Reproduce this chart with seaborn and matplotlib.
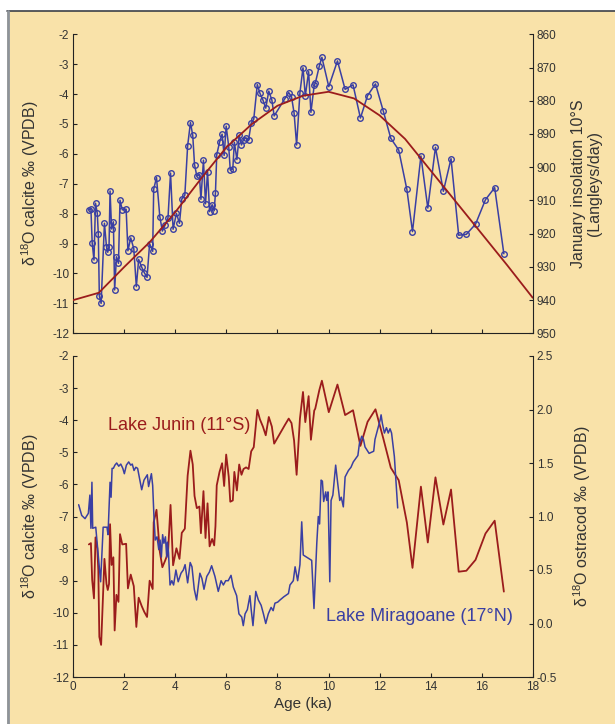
import numpy as np
import pandas as pd
import seaborn as sns
import matplotlib.pyplot as plt
from matplotlib.patches import Rectangle
from matplotlib.lines import Line2D


# Lake Junin calcite d18O (per mil VPDB) against age (ka)
junin_age = [0.61, 0.69, 0.74, 0.81, 0.87, 0.94, 0.98, 1.02, 1.09, 1.22,
             1.30, 1.35, 1.40, 1.44, 1.50, 1.57, 1.62, 1.69, 1.77, 1.83,
             1.92, 2.07, 2.14, 2.25, 2.37, 2.47, 2.56, 2.68, 2.78, 2.89,
             2.99, 3.11, 3.15, 3.26, 3.39, 3.49, 3.60, 3.71, 3.81, 3.91,
             4.04, 4.16, 4.25, 4.37, 4.48, 4.59, 4.68, 4.75, 4.84, 4.94,
             5.00, 5.10, 5.18, 5.26, 5.34, 5.44, 5.52, 5.57, 5.62, 5.73,
             5.83, 5.91, 5.99, 6.09, 6.15, 6.25, 6.31, 6.41, 6.50, 6.59,
             6.67, 6.77, 6.87, 6.97, 7.07, 7.21, 7.31, 7.43, 7.54, 7.66,
             7.78, 7.87, 8.29, 8.44, 8.55, 8.65, 8.75, 8.88, 9.00, 9.09,
             9.22, 9.31, 9.44, 9.48, 9.64, 9.74, 10.01, 10.35, 10.65, 10.96,
             11.25, 11.53, 11.84, 12.14, 12.44, 12.75, 13.07, 13.29, 13.62, 13.89,
             14.19, 14.50, 14.80, 15.10, 15.40, 15.76, 16.15, 16.51, 16.87]
junin_d18o = [-7.87, -7.83, -8.98, -9.55, -7.65, -7.99, -8.68, -10.75, -11.0, -8.32,
              -9.10, -9.29, -9.10, -7.24, -8.51, -8.27, -10.55, -9.44, -9.66, -7.55,
              -7.87, -7.85, -9.24, -8.81, -9.17, -10.44, -9.53, -9.79, -9.97, -10.13,
              -9.00, -9.26, -7.18, -6.79, -8.10, -8.58, -8.37, -8.14, -6.64, -8.52,
              -7.99, -8.32, -7.51, -7.38, -5.73, -4.95, -5.38, -6.36, -6.74, -6.69,
              -7.52, -6.21, -7.67, -6.59, -7.93, -7.70, -7.90, -7.30, -6.03, -5.61,
              -5.34, -6.05, -5.07, -5.76, -6.54, -6.50, -5.61, -6.19, -5.38, -5.70,
              -5.52, -5.47, -5.52, -4.97, -4.84, -3.68, -3.97, -4.20, -4.47, -3.90,
              -4.20, -4.73, -4.15, -3.95, -4.09, -4.63, -5.70, -3.95, -3.12, -4.06,
              -3.25, -4.61, -3.70, -3.64, -3.06, -2.77, -3.75, -2.89, -3.84, -3.69,
              -4.80, -4.05, -3.66, -4.55, -5.48, -5.87, -7.19, -8.60, -6.07, -7.81,
              -5.78, -7.25, -6.16, -8.72, -8.69, -8.35, -7.53, -7.13, -9.34]

# January insolation at 10 S (Langleys/day)
insol_age = list(range(0, 19))
insol_val = [940.0, 937.8, 930.0, 922.5, 913.5, 903.5, 894.0, 887.0, 881.5, 878.5,
             877.3, 879.3, 884.4, 891.5, 901.0, 910.5, 920.0, 929.5, 939.3]

# Lake Miragoane ostracod d18O (per mil VPDB)
mira_age = [0.21, 0.33, 0.46, 0.59, 0.65, 0.69, 0.73, 0.76, 0.88, 1.07,
            1.11, 1.17, 1.32, 1.36, 1.44, 1.48, 1.52, 1.57, 1.63, 1.70,
            1.78, 1.86, 1.94, 2.00, 2.08, 2.17, 2.25, 2.31, 2.38, 2.45,
            2.52, 2.61, 2.68, 2.77, 2.90, 2.95, 3.06, 3.11, 3.16, 3.21,
            3.28, 3.35, 3.40, 3.45, 3.50, 3.55, 3.61, 3.66, 3.69, 3.73,
            3.79, 3.86, 3.93, 4.02, 4.11, 4.22, 4.31, 4.38, 4.48, 4.58,
            4.65, 4.74, 4.83, 4.96, 5.04, 5.12, 5.23, 5.33, 5.42, 5.55,
            5.68, 5.79, 5.88, 5.97, 6.07, 6.18, 6.27, 6.40, 6.49, 6.60,
            6.66, 6.73, 6.82, 6.92, 6.97, 7.04, 7.15, 7.25, 7.36, 7.45,
            7.54, 7.64, 7.75, 7.83, 7.90, 8.01, 8.10, 8.25, 8.43, 8.49,
            8.62, 8.69, 8.79, 8.88, 8.95, 9.01, 9.34, 9.43, 9.54, 9.60,
            9.65, 9.71, 9.76, 9.81, 9.89, 9.93, 9.98, 10.05, 10.10, 10.17,
            10.28, 10.36, 10.44, 10.50, 10.58, 10.65, 10.78, 10.88, 10.97, 11.06,
            11.15, 11.21, 11.30, 11.37, 11.43, 11.59, 11.77, 11.82, 11.92, 12.02,
            12.06, 12.11, 12.19, 12.27, 12.34, 12.41, 12.47, 12.58, 12.71]
mira_d18o = [1.11, 1.01, 0.98, 1.03, 1.20, 0.89, 1.32, 0.89, 0.90, 0.39,
             0.59, 0.90, 0.90, 0.83, 1.32, 1.18, 1.45, 1.45, 1.48, 1.50,
             1.47, 1.49, 1.45, 1.40, 1.48, 1.51, 1.48, 1.49, 1.43, 1.46,
             1.45, 1.34, 1.25, 1.34, 1.39, 1.28, 1.40, 1.29, 1.00, 0.78,
             0.81, 0.69, 0.78, 0.62, 0.83, 0.75, 0.81, 0.62, 0.76, 0.66,
             0.36, 0.40, 0.36, 0.50, 0.39, 0.47, 0.50, 0.55, 0.38, 0.57,
             0.53, 0.32, 0.22, 0.47, 0.42, 0.32, 0.44, 0.48, 0.54, 0.44,
             0.30, 0.40, 0.36, 0.40, 0.40, 0.45, 0.34, 0.26, 0.09, 0.06,
             -0.02, 0.09, 0.13, 0.26, 0.13, -0.02, 0.30, 0.22, 0.17, 0.09,
             0.00, 0.09, 0.15, 0.12, 0.19, 0.20, 0.22, 0.25, 0.28, 0.36,
             0.40, 0.53, 0.40, 0.55, 0.95, 0.64, 0.59, 0.14, 0.75, 1.00,
             0.93, 1.34, 1.33, 1.14, 1.23, 1.15, 1.23, 0.39, 1.15, 1.20,
             1.48, 1.31, 1.15, 1.18, 1.09, 1.37, 1.43, 1.46, 1.51, 1.54,
             1.57, 1.68, 1.75, 1.72, 1.65, 1.59, 1.61, 1.72, 1.81, 1.90,
             1.95, 1.87, 1.78, 1.83, 1.78, 1.82, 1.78, 1.56, 1.08]

age_ticks = list(range(0, 19, 2))
calcite_ticks = list(range(-12, -1))
insol_ticks = list(range(860, 951, 10))
ostracod_ticks = [-0.5, 0.0, 0.5, 1.0, 1.5, 2.0, 2.5]

BEIGE = '#f9e2a9'
RED = '#9b1c1c'
BLUE = '#3a3fa3'
TXT = '#333333'

sns.set_style('ticks')
plt.rcParams['font.family'] = ['Liberation Sans', 'DejaVu Sans']
plt.rcParams['mathtext.fontset'] = 'custom'
plt.rcParams['mathtext.rm'] = 'Liberation Sans'
plt.rcParams['mathtext.it'] = 'Liberation Sans'
plt.rcParams['axes.unicode_minus'] = False
plt.rcParams['axes.edgecolor'] = '#222222'
plt.rcParams['xtick.color'] = '#222222'
plt.rcParams['ytick.color'] = '#222222'

junin = pd.DataFrame({'age': junin_age, 'd18o': junin_d18o})
insol = pd.DataFrame({'age': insol_age, 'ins': insol_val})
mira = pd.DataFrame({'age': mira_age, 'd18o': mira_d18o})

fig = plt.figure(figsize=(6.15, 7.24), dpi=100, facecolor='white')

# beige backdrop with its thin frame lines
fig.patches.append(Rectangle((7 / 615, 0), 1, 1 - 11 / 724, transform=fig.transFigure,
                             facecolor=BEIGE, edgecolor='none', zorder=-10))
fig.lines.append(Line2D([7 / 615, 1], [1 - 11 / 724] * 2, transform=fig.transFigure,
                        color='#3c4048', lw=1.2))
fig.lines.append(Line2D([7.5 / 615] * 2, [0, 1 - 11 / 724], transform=fig.transFigure,
                        color='#8d939b', lw=2))

left, width = 73.3 / 615, (532.7 - 73.3) / 615
ax1 = fig.add_axes([left, 1 - 333.3 / 724, width, (333.3 - 34.3) / 724])
ax2 = fig.add_axes([left, 1 - 677 / 724, width, (677 - 356) / 724])

def style(ax, twin):
    for a in (ax, twin):
        a.set_facecolor('none')
        a.spines['top'].set_visible(False)
        a.tick_params(direction='in', length=3, width=0.8, labelsize=8.5, labelcolor=TXT, pad=3)
    ax.spines['right'].set_visible(False)
    twin.spines['left'].set_visible(False)
    twin.spines['bottom'].set_visible(False)

# ---- top panel ----
ax1b = ax1.twinx()
style(ax1, ax1b)
sns.lineplot(data=junin, x='age', y='d18o', ax=ax1, estimator=None, color=BLUE, lw=1.1,
             marker='o', ms=4, mfc='none', mec=BLUE, mew=1.0)
sns.lineplot(data=insol, x='age', y='ins', ax=ax1b, estimator=None, color=RED, lw=1.3)
ax1.set_xlim(0, 18)
ax1.set_ylim(-12, -2)
ax1.set_xticks(age_ticks)
ax1.set_xticklabels([])
ax1.set_yticks(calcite_ticks)
ax1.set_xlabel('')
ax1.set_ylabel(r'$\delta^{18}$O calcite ‰ (VPDB)', fontsize=11.5, color=TXT, labelpad=8)
ax1b.set_ylim(950, 860)
ax1b.set_yticks(insol_ticks)
ax1b.set_ylabel('January insolation 10°S\n(Langleys/day)', fontsize=11.5, color=TXT,
                labelpad=10, linespacing=1.1)

# ---- bottom panel ----
ax2b = ax2.twinx()
style(ax2, ax2b)
sns.lineplot(data=junin, x='age', y='d18o', ax=ax2, estimator=None, color=RED, lw=1.3)
sns.lineplot(data=mira, x='age', y='d18o', ax=ax2b, estimator=None, color=BLUE, lw=1.1)
ax2.set_xlim(0, 18)
ax2.set_ylim(-12, -2)
ax2.set_xticks(age_ticks)
ax2.set_yticks(calcite_ticks)
ax2.set_xlabel('Age (ka)', fontsize=11, color=TXT, labelpad=3)
ax2.set_ylabel(r'$\delta^{18}$O calcite ‰ (VPDB)', fontsize=11.5, color=TXT, labelpad=8)
ax2b.set_ylim(-0.5, 2.5)
ax2b.set_yticks(ostracod_ticks)
ax2b.set_yticklabels([f'{t:.1f}' for t in ostracod_ticks])
ax2b.set_ylabel(r'$\delta^{18}$O ostracod ‰ (VPDB)', fontsize=11.5, color=TXT, labelpad=10)

ax2.text(1.35, -4.15, 'Lake Junin (11°S)', color=RED, fontsize=13, va='center')
ax2b.text(9.9, 0.07, 'Lake Miragoane (17°N)', color=BLUE, fontsize=13, va='center')

fig.savefig('out.png', dpi=100, facecolor='white')
